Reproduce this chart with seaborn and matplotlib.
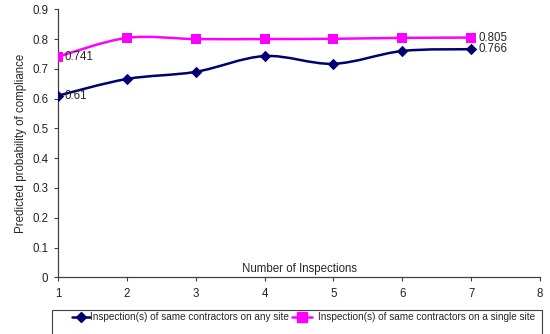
import numpy as np
import pandas as pd
import matplotlib
matplotlib.use("Agg")
import matplotlib.pyplot as plt
import seaborn as sns
from matplotlib.path import Path
from matplotlib.patches import PathPatch, Rectangle
from matplotlib.lines import Line2D

inspections = [1, 2, 3, 4, 5, 6, 7]
any_site = [0.610, 0.666, 0.690, 0.743, 0.717, 0.760, 0.766]
single_site = [0.741, 0.804, 0.800, 0.800, 0.801, 0.804, 0.805]
series_names = ["Inspection(s) of same contractors on any site",
                "Inspection(s) of same contractors on a single site"]
x_ticks = [1, 2, 3, 4, 5, 6, 7, 8]
y_ticks = [0, 0.1, 0.2, 0.3, 0.4, 0.5, 0.6, 0.7, 0.8, 0.9]

sns.set_style("white")
plt.rcParams['font.family'] = ['Liberation Sans', 'DejaVu Sans']

fig = plt.figure(figsize=(5.5, 3.34), dpi=100)
ax = fig.add_axes([58/550, 1-277.3/334, (540-58)/550, (277.3-9.3)/334])

navy = "#000070"
pink = "#FF00FF"


def smooth_path(xs, ys):
    pts = np.column_stack([xs, ys]).astype(float)
    n = len(pts)
    verts = [pts[0]]
    codes = [Path.MOVETO]
    for i in range(n - 1):
        p0 = pts[i - 1] if i > 0 else pts[i]
        p1 = pts[i]
        p2 = pts[i + 1]
        p3 = pts[i + 2] if i + 2 < n else pts[i + 1]
        c1 = p1 + (p2 - p0) / 6.0
        c2 = p2 - (p3 - p1) / 6.0
        verts += [c1, c2, p2]
        codes += [Path.CURVE4] * 3
    return Path(verts, codes)


df = pd.DataFrame({"x": inspections * 2,
                   "y": any_site + single_site,
                   "s": [series_names[0]] * 7 + [series_names[1]] * 7})

for vals, col in [(any_site, navy), (single_site, pink)]:
    ax.add_patch(PathPatch(smooth_path(inspections, vals), facecolor="none",
                           edgecolor=col, lw=1.8, zorder=2))

sns.scatterplot(data=df[df.s == series_names[0]], x="x", y="y", marker="D",
                color=navy, s=34, edgecolor=navy, linewidth=0, ax=ax,
                zorder=3, legend=False)
sns.scatterplot(data=df[df.s == series_names[1]], x="x", y="y", marker="s",
                color=pink, s=58, edgecolor=pink, linewidth=0, ax=ax,
                zorder=3, legend=False)

fs = 8.3
lfs = 8.3
ax.text(inspections[0] + 0.1, any_site[0], f"{any_site[0]:.2f}".rstrip("0"),
        va="center", ha="left", fontsize=lfs)
ax.text(inspections[0] + 0.1, single_site[0], f"{single_site[0]:.3f}",
        va="center", ha="left", fontsize=lfs)
ax.text(inspections[-1] + 0.1, single_site[-1], f"{single_site[-1]:.3f}",
        va="center", ha="left", fontsize=lfs)
ax.text(inspections[-1] + 0.1, any_site[-1], f"{any_site[-1]:.3f}",
        va="center", ha="left", fontsize=lfs)

ax.set_xlim(1, 8)
ax.set_ylim(0, 0.9)
ax.set_xticks(x_ticks)
ax.set_yticks(y_ticks)
ax.set_yticklabels(["0" if v == 0 else f"{v:.1f}" for v in y_ticks])
ax.set_xlabel("")
ax.set_ylabel("Predicted probability of compliance", fontsize=fs, labelpad=4)
ax.text(0.5, 0.008, "Number of Inspections", transform=ax.transAxes,
        ha="center", va="bottom", fontsize=fs)

for sp in ["top", "right"]:
    ax.spines[sp].set_visible(False)
for sp in ["left", "bottom"]:
    ax.spines[sp].set_color("#404040")
    ax.spines[sp].set_linewidth(0.9)
ax.tick_params(axis="both", labelsize=fs, colors="#404040", labelcolor="#222222",
               length=3, width=0.8, direction="out", left=True, bottom=True)
ax.tick_params(axis="x", pad=5)
ax.tick_params(axis="y", pad=4)

# legend frame (extends past figure bottom, as in the reference)
fig.patches.append(Rectangle((52/550, -0.05), (542-52)/550, 0.05 + 1-310/334,
                             transform=fig.transFigure, facecolor="white",
                             edgecolor="#404040", lw=0.8))
h1 = Line2D([], [], color=navy, lw=1.8, marker="D", markersize=5.5)
h2 = Line2D([], [], color=pink, lw=1.8, marker="s", markersize=7)
leg1 = fig.legend([h1], [series_names[0]], loc="center left",
                  bbox_to_anchor=(72/550, 1-317/334), frameon=False,
                  fontsize=7.2, handlelength=1.75, handletextpad=0.0,
                  borderpad=0, borderaxespad=0)
leg2 = fig.legend([h2], [series_names[1]], loc="center left",
                  bbox_to_anchor=(292/550, 1-317/334), frameon=False,
                  fontsize=7.2, handlelength=2.0, handletextpad=0.6,
                  borderpad=0, borderaxespad=0)

fig.savefig("out.png", dpi=100)
